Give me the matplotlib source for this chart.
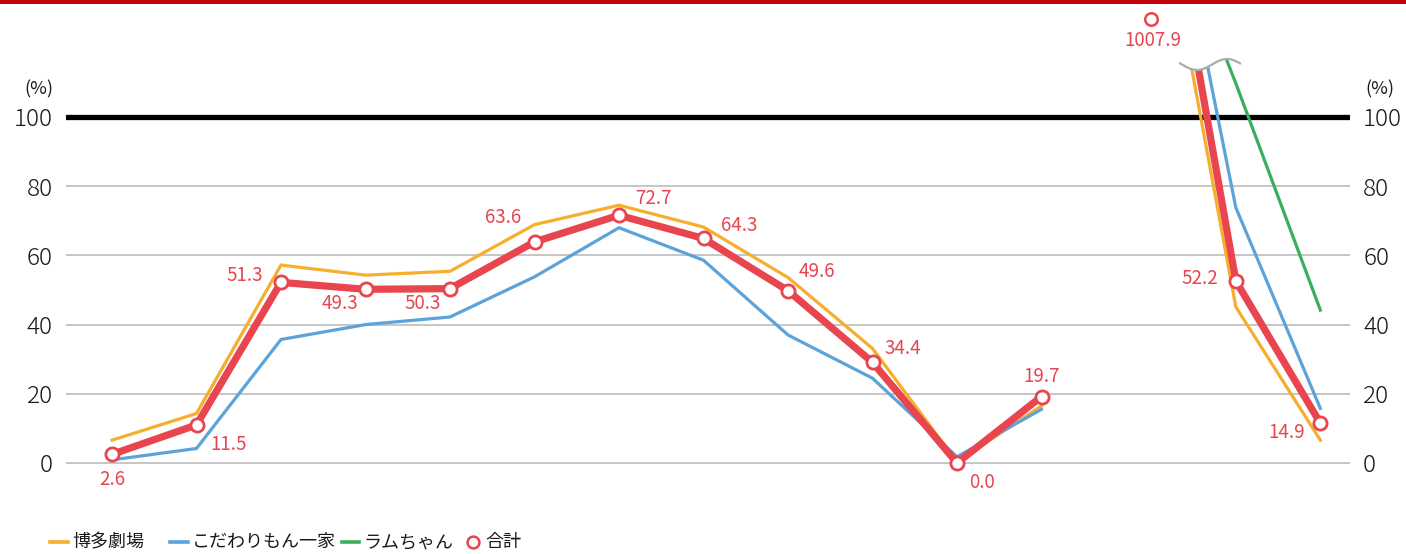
import numpy as np
import matplotlib
matplotlib.use("Agg")
import matplotlib.pyplot as plt
from matplotlib.patches import Rectangle, Polygon
from matplotlib.lines import Line2D

plt.rcParams['font.family'] = ['Noto Sans CJK JP', 'DejaVu Sans']

# ---------------- data ----------------
series_names = ['博多劇場', 'こだわりもん一家', 'ラムちゃん', '合計']
x_left = [0, 1, 2, 3, 4, 5, 6, 7, 8, 9, 10, 11]
x_right = [12.3, 13.3, 14.3]

hakata_left = [6.6, 14.3, 57.2, 54.3, 55.4, 68.9, 74.5, 68.2, 53.6, 33.1, 0.3, 16.5]
hakata_right = [177, 45.1, 6.6]
kodawari_left = [0.9, 4.2, 35.7, 40.0, 42.2, 53.8, 68.0, 58.6, 37.0, 24.5, 1.8, 15.5]
kodawari_right = [196, 73.8, 15.8]
ram_right = [172, 109.7, 44.2]
total_left = [2.5, 11.0, 52.2, 50.2, 50.4, 63.9, 71.6, 64.9, 49.8, 29.1, 0.0, 19.2]
total_right = [191, 52.6, 11.5]
total_left_labels = ['2.6', '11.5', '51.3', '49.3', '50.3', '63.6', '72.7',
                     '64.3', '49.6', '34.4', '0.0', '19.7']
total_right_labels = ['1007.9', '52.2', '14.9']
total_break_display = 128.2   # off-scale point shown at top of chart

yticks = [0, 20, 40, 60, 80, 100]

# ---------------- style ----------------
C_OR = '#f6ae2d'
C_BL = '#5ba3da'
C_GR = '#3aae5f'
C_RD = '#e8454f'
C_GRID = '#c2c2c2'

W, H = 1406, 554
fig = plt.figure(figsize=(W / 100, H / 100), dpi=100)

# axes placement (pixels)
ax_l, ax_r = 66, 1350
px_per_x = 84.5
x0_px = 112
y0_px, y100_px = 463, 117
px_per_y = (y0_px - y100_px) / 100.0
y_top_val, y_bot_val = 132.0, -8.0
top_px = y0_px - y_top_val * px_per_y
bot_px = y0_px - y_bot_val * px_per_y
xlim = (-(x0_px - ax_l) / px_per_x, (ax_r - x0_px) / px_per_x)

ax = fig.add_axes([ax_l / W, (H - bot_px) / H, (ax_r - ax_l) / W, (bot_px - top_px) / H])
ax.set_xlim(*xlim)
ax.set_ylim(y_bot_val, y_top_val)
for s in ax.spines.values():
    s.set_visible(False)
ax.set_xticks([])
ax.set_yticks(yticks)
ax.set_yticklabels([str(v) for v in yticks])
ax.tick_params(axis='y', length=0, pad=9.5, labelsize=17.5, labelcolor='#1a1a1a',
               labelleft=True, labelright=True)
for t in ax.get_yticklabels():
    t.set_fontweight('light')

for v in yticks[:-1]:
    ax.axhline(v, color=C_GRID, lw=1.3, zorder=1)
ax.axhline(100, color='black', lw=3.8, zorder=1.5)

def px2d(px, py):
    return (px - x0_px) / px_per_x, (y0_px - py) / px_per_y

# lines
ax.plot(x_left, hakata_left, color=C_OR, lw=2.3, zorder=2, solid_joinstyle='miter')
ax.plot(x_left, kodawari_left, color=C_BL, lw=2.3, zorder=2, solid_joinstyle='miter')
ax.plot(x_right, hakata_right, color=C_OR, lw=2.3, zorder=2)
ax.plot(x_right, kodawari_right, color=C_BL, lw=2.3, zorder=2)
ax.plot(x_right, ram_right, color=C_GR, lw=2.3, zorder=2)
ax.plot(x_left, total_left, color=C_RD, lw=5.2, zorder=3, solid_joinstyle='round')
ax.plot(x_right, total_right, color=C_RD, lw=5.2, zorder=3)

# white mask above the break wave + the wave itself
wx = np.linspace(1180, 1240, 80)
wy = 64.5 + 5.5 * np.sin(2 * np.pi * (wx - 1197) / 60.0 + np.pi / 2)
wave = [px2d(a, b) for a, b in zip(wx, wy)]
mask = [px2d(1168, 0)] + wave + [px2d(1252, 0)]
ax.add_patch(Polygon(mask, closed=True, facecolor='white', edgecolor='none', zorder=4))
ax.plot([p[0] for p in wave], [p[1] for p in wave], color='#ababab', lw=1.6, zorder=4.5)

# markers
mk = dict(marker='o', ms=9.5, mfc='white', mec=C_RD, mew=2.0, ls='none', zorder=6, clip_on=False)
ax.plot(x_left, total_left, **mk)
ax.plot(x_right[1:], total_right[1:], **mk)
ax.plot([x_right[0]], [total_break_display], **{**mk, 'mew': 1.8, 'ms': 9})

# labels
left_offsets = [(0, 25), (32, 20), (-36, -7), (-26, 14), (-27, 15), (-31, -24),
                (34, -17), (36, -13), (29, -19), (30, -14), (25, 19), (0, -20)]
right_offsets = [(2, 21), (-36, -3), (-34, 9)]
lab = dict(color=C_RD, fontsize=13.5, ha='center', va='center', zorder=7,
           textcoords='offset pixels', annotation_clip=False)
for x, y, s, (dx, dy) in zip(x_left, total_left, total_left_labels, left_offsets):
    ax.annotate(s, (x, y), xytext=(dx, -dy), **lab)
right_y = [total_break_display] + total_right[1:]
for x, y, s, (dx, dy) in zip(x_right, right_y, total_right_labels, right_offsets):
    ax.annotate(s, (x, y), xytext=(dx, -dy), **lab)

# (%) unit labels
fig.text(39 / W, 1 - 89 / H, '(%)', fontsize=13, ha='center', va='center', color='#1a1a1a')
fig.text(1380 / W, 1 - 89 / H, '(%)', fontsize=13, ha='center', va='center', color='#1a1a1a')

# top red bar
fig.patches.append(Rectangle((0, 1 - 4 / H), 1, 4 / H, transform=fig.transFigure,
                             facecolor='#c4000b', edgecolor='none', zorder=10))

# legend (manual)
ly = 1 - 542 / H
leg_items = [(50, 68, C_OR, series_names[0], 72),
             (170, 188, C_BL, series_names[1], 192),
             (342, 359, C_GR, series_names[2], 363)]
for xa, xb, c, name, tx in leg_items:
    fig.add_artist(Line2D([xa / W, xb / W], [ly, ly], color=c, lw=2.6, transform=fig.transFigure))
    fig.text(tx / W, ly, name, fontsize=13, ha='left', va='center', color='#1a1a1a')
fig.add_artist(Line2D([473 / W], [ly], marker='o', ms=8.5, mfc='white', mec=C_RD, mew=1.8,
                      ls='none', transform=fig.transFigure))
fig.text(485 / W, ly, series_names[3], fontsize=13, ha='left', va='center', color='#1a1a1a')

fig.savefig('out.png', dpi=100)
